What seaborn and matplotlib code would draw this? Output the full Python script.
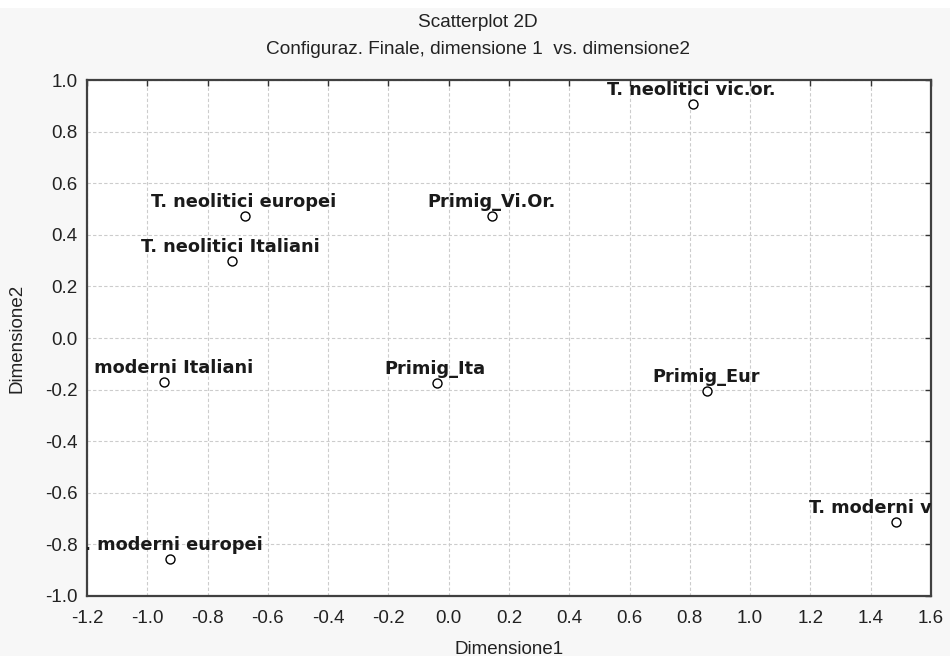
import matplotlib
matplotlib.use("Agg")
import matplotlib.pyplot as plt
from matplotlib.patches import Rectangle
import seaborn as sns
import pandas as pd

# MDS configuration, dimension 1 vs dimension 2
names = [
    "T. neolitici vic.or.",
    "T. neolitici europei",
    "T. neolitici Italiani",
    "Primig_Vi.Or.",
    "T. moderni Italiani",
    "Primig_Ita",
    "Primig_Eur",
    "T. moderni vic.or.",
    "T. moderni europei",
]
dim1 = [0.81, -0.675, -0.72, 0.145, -0.944, -0.04, 0.858, 1.483, -0.924]
dim2 = [0.907, 0.473, 0.298, 0.474, -0.169, -0.176, -0.204, -0.712, -0.858]

xticks = [-1.2, -1.0, -0.8, -0.6, -0.4, -0.2, 0.0, 0.2, 0.4, 0.6, 0.8, 1.0, 1.2, 1.4, 1.6]
yticks = [-1.0, -0.8, -0.6, -0.4, -0.2, 0.0, 0.2, 0.4, 0.6, 0.8, 1.0]

df = pd.DataFrame({"Dimensione1": dim1, "Dimensione2": dim2, "nome": names})

sns.set_style("white")
plt.rcParams["font.family"] = ["Liberation Sans", "DejaVu Sans"]

fig = plt.figure(figsize=(9.5, 6.56), dpi=100, facecolor="#f7f7f7")
# thin white strip at the very top, as in the scanned page
fig.patches.append(Rectangle((0, 0.988), 1, 0.012, transform=fig.transFigure,
                             facecolor="white", edgecolor="none"))
ax = fig.add_axes([0.0916, 0.0915, 0.8884, 0.7865])
ax.set_facecolor("white")

sns.scatterplot(data=df, x="Dimensione1", y="Dimensione2", ax=ax,
                marker="o", s=42, facecolor="white", edgecolor="black",
                linewidth=1.0, zorder=3)

# point labels, clipped at the frame like the original
for x, y, n in zip(dim1, dim2, names):
    ax.annotate(n, (x, y), xytext=(-1, 6.5), textcoords="offset points",
                ha="center", va="baseline", fontsize=12.8, fontweight="bold",
                family="DejaVu Sans", color="#1a1a1a", clip_on=True, zorder=4)

ax.set_xlim(-1.2, 1.6)
ax.set_ylim(-1.0, 1.0)
ax.set_xticks(xticks)
ax.set_yticks(yticks)
ax.set_xticklabels([f"{t:.1f}" for t in xticks])
ax.set_yticklabels([f"{t:.1f}" for t in yticks])
ax.tick_params(direction="in", length=4, width=1, color="#333333",
               top=True, right=True, labelsize=13.5, labelcolor="#222222")
ax.tick_params(axis="x", pad=10)
ax.tick_params(axis="y", pad=7)
ax.grid(True, color="#cccccc", linestyle=(0, (3, 2)), linewidth=0.8)
for sp in ax.spines.values():
    sp.set_color("#404040")
    sp.set_linewidth(1.6)
    sp.set_visible(True)

ax.set_xlabel("Dimensione1", fontsize=13.5, color="#222222", labelpad=10)
ax.set_ylabel("Dimensione2", fontsize=13.5, color="#222222", labelpad=14)

fig.text(0.503, 0.966, "Scatterplot 2D", ha="center", va="center",
         fontsize=13.7, color="#222222")
fig.text(0.503, 0.924, "Configuraz. Finale, dimensione 1  vs. dimensione2",
         ha="center", va="center", fontsize=13.7, color="#222222")

fig.savefig("out.png", dpi=100, facecolor=fig.get_facecolor())
